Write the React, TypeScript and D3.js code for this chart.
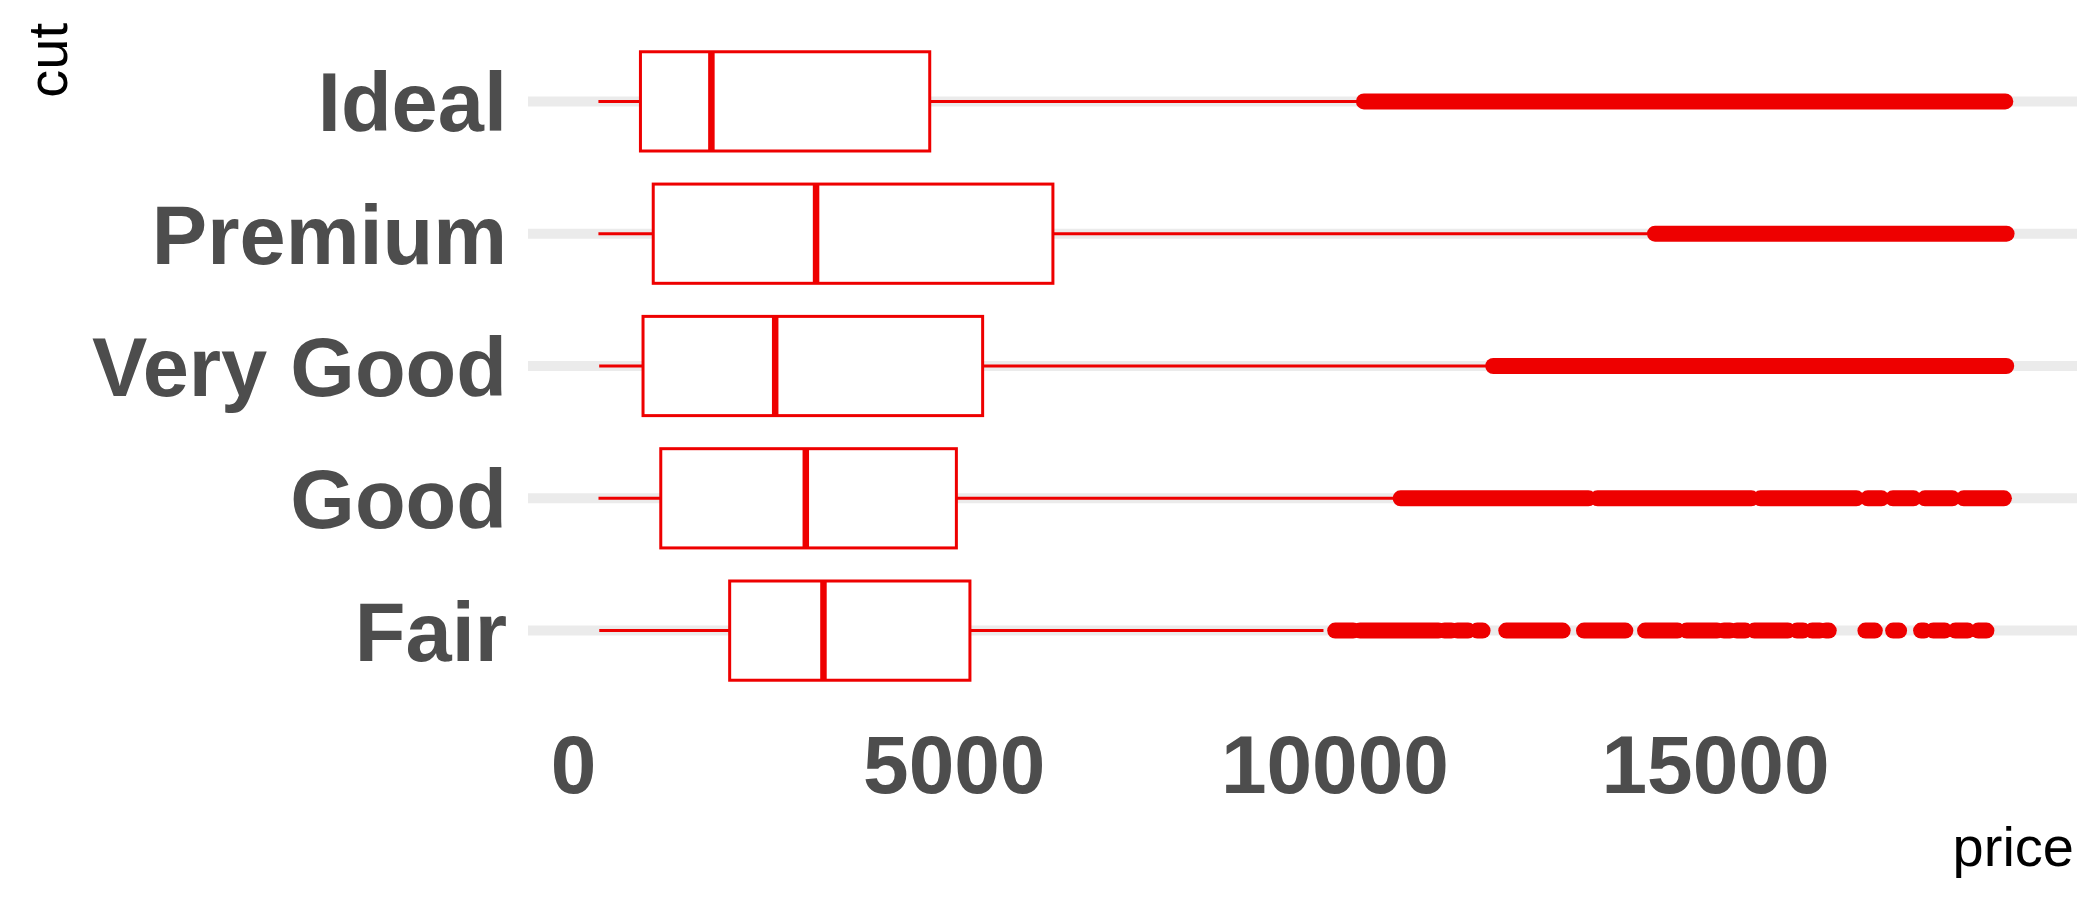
import * as d3 from "d3";

const cuts = ["Ideal", "Premium", "Very Good", "Good", "Fair"];
const whiskerLow = [326, 326, 336, 327, 337];
const q1 = [878, 1046, 912, 1145, 2050];
const median = [1810, 3185, 2648, 3050, 3282];
const q3 = [4678, 6296, 5373, 5028, 5206];
const whiskerHigh = [10340, 14160, 12050, 10840, 9850];

// outliers: runs of overlapping points, [from, to] price
const idealOutliers = [[10381, 18806]];
const premiumOutliers = [[14205, 18823]];
const veryGoodOutliers = [[12080, 18818]];
const goodOutliers = [
  [10863, 13330], [13450, 15470], [15590, 16850], [17000, 17180],
  [17330, 17600], [17750, 18110], [18260, 18788],
];
const fairOutliers = [
  [10004, 10240], [10330, 11360], [11440, 11530], [11610, 11750], [11870, 11940],
  [12251, 12992], [13272, 13815],
  [14074, 14500], [14620, 15020], [15110, 15190], [15280, 15390], [15510, 15950],
  [16070, 16150], [16270, 16370], [16450, 16487],
  [16969, 17092], [17333, 17411],
  [17700, 17740], [17860, 18010], [18150, 18310], [18450, 18558],
];
const outliers = [idealOutliers, premiumOutliers, veryGoodOutliers, goodOutliers, fairOutliers];

const priceTicks = [0, 5000, 10000, 15000];

const RED = "#EE0000";
const GREY = "#4D4D4D";
const FONT = "'Liberation Sans', Arial, sans-serif";

export default function App() {
  const width = 2100;
  const height = 900;
  const x = d3.scaleLinear().domain([-599, 19748]).range([528, 2077]);
  const y = d3.scalePoint<string>().domain(cuts).range([22, 710]).padding(0.6);
  const boxH = y.step() * 0.75;
  const r = 8;

  return (
    <svg
      width={width}
      height={height}
      style={{ position: "absolute", left: 0, top: 0, background: "#fff" }}
    >
      {/* grid */}
      {cuts.map((c) => (
        <line key={"g" + c} x1={x.range()[0]} x2={x.range()[1]} y1={y(c)} y2={y(c)}
          stroke="#EBEBEB" strokeWidth={10} />
      ))}

      {cuts.map((c, i) => {
        const cy = y(c) as number;
        return (
          <g key={c}>
            <line x1={x(whiskerLow[i])} x2={x(q1[i])} y1={cy} y2={cy} stroke={RED} strokeWidth={3} />
            <line x1={x(q3[i])} x2={x(whiskerHigh[i])} y1={cy} y2={cy} stroke={RED} strokeWidth={3} />
            <rect x={x(q1[i])} y={cy - boxH / 2} width={x(q3[i]) - x(q1[i])} height={boxH}
              fill="#fff" stroke={RED} strokeWidth={3} />
            <line x1={x(median[i])} x2={x(median[i])} y1={cy - boxH / 2} y2={cy + boxH / 2}
              stroke={RED} strokeWidth={6.5} />
            {outliers[i].map(([a, b], k) => (
              <rect key={k} x={x(a) - r} y={cy - r} width={x(b) - x(a) + 2 * r} height={2 * r}
                rx={r} ry={r} fill={RED} />
            ))}
          </g>
        );
      })}

      {/* y tick labels */}
      {cuts.map((c) => (
        <text key={"l" + c} x={507} y={(y(c) as number) + 30} textAnchor="end"
          fontFamily={FONT} fontWeight="bold" fontSize={83} fill={GREY}>
          {c}
        </text>
      ))}

      {/* x tick labels */}
      {priceTicks.map((t) => (
        <text key={"t" + t} x={x(t)} y={793} textAnchor="middle"
          fontFamily={FONT} fontWeight="bold" fontSize={82} fill={GREY}>
          {t}
        </text>
      ))}

      <text x={2074} y={866} textAnchor="end" fontFamily={FONT} fontSize={56} fill="#000">
        price
      </text>
      <text transform="translate(67,23) rotate(-90)" textAnchor="end" fontFamily={FONT}
        fontSize={56} fill="#000">
        cut
      </text>
    </svg>
  );
}
